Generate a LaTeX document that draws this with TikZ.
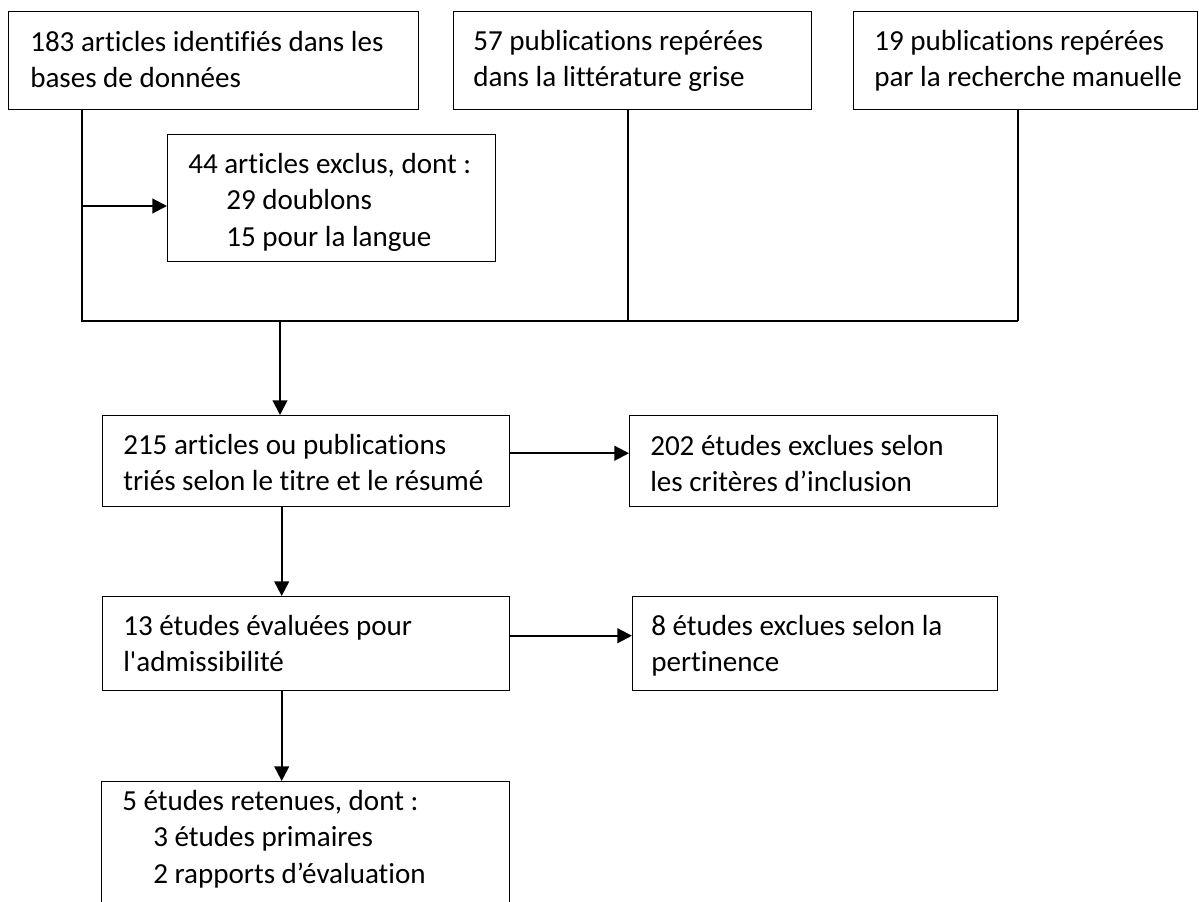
\documentclass[tikz,border=0pt]{standalone}
\usepackage{fontspec}
\setmainfont{Carlito}[Ligatures={TeXOff,NoCommon}]
\usetikzlibrary{arrows.meta}
\begin{document}
\begin{tikzpicture}[x=0.75pt,y=-0.75pt,
  box/.style={draw, line width=1.1pt, inner sep=0pt, anchor=north west},
  txt/.style={anchor=north west, inner sep=0pt, align=left, font=\fontsize{21.8}{27.4}\selectfont},
  conn/.style={line width=1.1pt},
  arr/.style={line width=1.6pt, -{Triangle[length=11pt,width=11pt]}}]
\useasboundingbox (0,0) rectangle (1199,902);
% boxes
\node[box, minimum width=307.5pt, minimum height=73.5pt] (b1) at (8,11) {};
\node[box, minimum width=268.5pt, minimum height=73.5pt] (b2) at (453,11) {};
\node[box, minimum width=258pt, minimum height=73.5pt] (b3) at (853,11) {};
\node[box, minimum width=246pt, minimum height=95.25pt] (ex) at (167,134) {};
\node[box, minimum width=305.25pt, minimum height=68.25pt] (b215) at (102,415) {};
\node[box, minimum width=276pt, minimum height=68.25pt] (b202) at (629,415) {};
\node[box, minimum width=305.25pt, minimum height=70.5pt] (b13) at (102,596) {};
\node[box, minimum width=273.75pt, minimum height=70.5pt] (b8) at (632,596) {};
\node[box, minimum width=306pt, minimum height=105pt] (b5) at (101,781) {};
% texts
\node[txt] (t1) at ([shift={(22,16)}]b1.north west) {\rule{0pt}{18pt}183 articles identifiés dans les\\bases de données};
\node[txt] (t2) at ([shift={(20,15)}]b2.north west) {\rule{0pt}{18pt}57 publications repérées\\dans la littérature grise};
\node[txt] (t3) at ([shift={(21,15)}]b3.north west) {\rule{0pt}{18pt}19 publications repérées\\par la recherche manuelle};
\node[txt] (tex) at ([shift={(21,15)}]ex.north west) {\rule{0pt}{18pt}44 articles exclus, dont :\\\hspace*{28.5pt}29 doublons\\\hspace*{28.5pt}15 pour la langue};
\node[txt] (t215) at ([shift={(21,15)}]b215.north west) {\rule{0pt}{18pt}215 articles ou publications\\triés selon le titre et le résumé};
\node[txt] (t202) at ([shift={(21,16)}]b202.north west) {\rule{0pt}{18pt}202 études exclues selon\\les critères d’inclusion};
\node[txt] (t13) at ([shift={(21,15)}]b13.north west) {\rule{0pt}{18pt}13 études évaluées pour\\l'admissibilité};
\node[txt] (t8) at ([shift={(19,15)}]b8.north west) {\rule{0pt}{18pt}8 études exclues selon la\\pertinence};
\node[txt] (t5) at ([shift={(21,5)}]b5.north west) {\rule{0pt}{18pt}5 études retenues, dont :\\\hspace*{23.25pt}3 études primaires\\\hspace*{23.25pt}2 rapports d’évaluation};
% connectors
\coordinate (j1) at (82,321);
\coordinate (j2) at (628,321);
\coordinate (j3) at (1018,321);
\coordinate (j4) at (280,321);
\coordinate (a1) at (82,206);
\draw[conn] (b1.south -| j1) -- (j1) -- (j3);
\draw[conn] (b2.south -| j2) -- (j2);
\draw[conn] (b3.south -| j3) -- (j3);
\draw[arr] (a1) -- (a1 -| ex.west);
\draw[arr] (j4) -- (j4 |- b215.north);
\draw[arr] ([yshift=6pt]b215.east) -- ([yshift=6pt]b215.east -| b202.west);
\draw[arr] ([xshift=-18.4pt]b215.south) -- ([xshift=-18.4pt]b215.south |- b13.north);
\draw[arr] ([yshift=6pt]b13.east) -- ([yshift=6pt]b13.east -| b8.west);
\draw[arr] ([xshift=-18.4pt]b13.south) -- ([xshift=-18.4pt]b13.south |- b5.north);
\end{tikzpicture}
\end{document}
